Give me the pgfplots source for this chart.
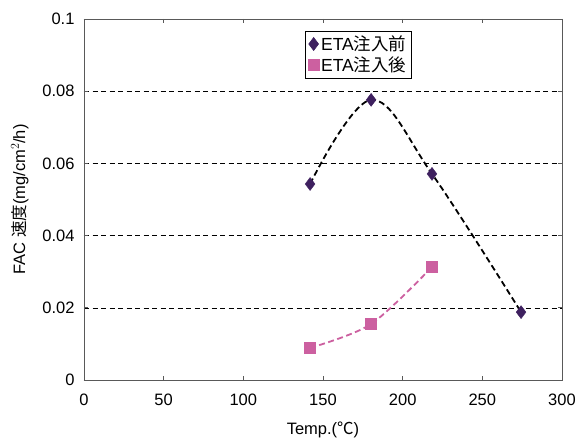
\documentclass[border=0pt]{standalone}
\usepackage{fontspec}
\setmainfont{Liberation Sans}
\newfontfamily\cjk{Noto Sans CJK JP}
\usepackage{pgfplots}
\pgfplotsset{compat=1.18}
\definecolor{dpurp}{RGB}{62,32,95}
\definecolor{mpink}{RGB}{204,96,160}
\begin{document}
\begin{tikzpicture}
\begin{axis}[
  scale only axis, width=478pt, height=361pt,
  xmin=0, xmax=300, ymin=0, ymax=0.1,
  xtick={0,50,...,300},
  ytick={0,0.02,0.04,0.06,0.08,0.1},
  yticklabel style={/pgf/number format/fixed,/pgf/number format/precision=2, xshift=-6pt},
  xticklabel style={yshift=-10pt},
  /pgf/number format/assume math mode=true,
  tick align=inside, major tick length=4pt,
  tick style={gray!70!black, line width=0.8pt},
  axis line style={gray!70!black, line width=0.9pt},
  ymajorgrids, grid style={black, dashed, line width=0.6pt, dash pattern=on 5pt off 3.5pt},
  font=\fontsize{16}{19}\selectfont,
  tick label style={font=\fontsize{16.5}{19}\selectfont},
  label style={font=\fontsize{16.5}{19}\selectfont},
  xlabel={Temp.({\cjk ℃})},
  ylabel={FAC {\cjk 速度}(mg/cm$^{2}$/h)},
  xlabel style={yshift=-10pt},
  ylabel style={yshift=7pt},
  legend style={at={(0.462,0.968)}, anchor=north west, draw=black, line width=0.6pt,
    font=\fontsize{17.5}{20}\selectfont, row sep=1pt, inner sep=3pt},
  legend cell align=left,
]
% trend lines
\addplot[black, line width=1.8pt, dash pattern=on 6pt off 3.5pt, smooth, tension=0.6, forget plot]
  coordinates {(141.9,0.0543) (180.2,0.0776) (218.4,0.0571) (274.3,0.0188)};
\addplot[mpink, line width=1.8pt, dash pattern=on 6pt off 3.5pt, smooth, forget plot]
  coordinates {(141.9,0.0089) (180.2,0.0155) (218.4,0.0313)};
\addplot[only marks, mark=diamond*, mark size=6.5pt, color=dpurp, mark options={fill=dpurp, draw=dpurp}]
  coordinates {(141.9,0.0543) (180.2,0.0776) (218.4,0.0571) (274.3,0.0188)};
\addlegendentry{ETA{\cjk 注入前}}
\addplot[only marks, mark=square*, mark size=5.5pt, color=mpink, mark options={fill=mpink, draw=mpink}]
  coordinates {(141.9,0.0089) (180.2,0.0155) (218.4,0.0313)};
\addlegendentry{ETA{\cjk 注入後}}
\end{axis}
\pgfresetboundingbox
\path (current axis.south west) ++(-84pt,-61pt) coordinate (bl);
\path (current axis.north east) ++(17pt,19pt) coordinate (tr);
\useasboundingbox (bl) rectangle (tr);
\end{tikzpicture}
\end{document}
